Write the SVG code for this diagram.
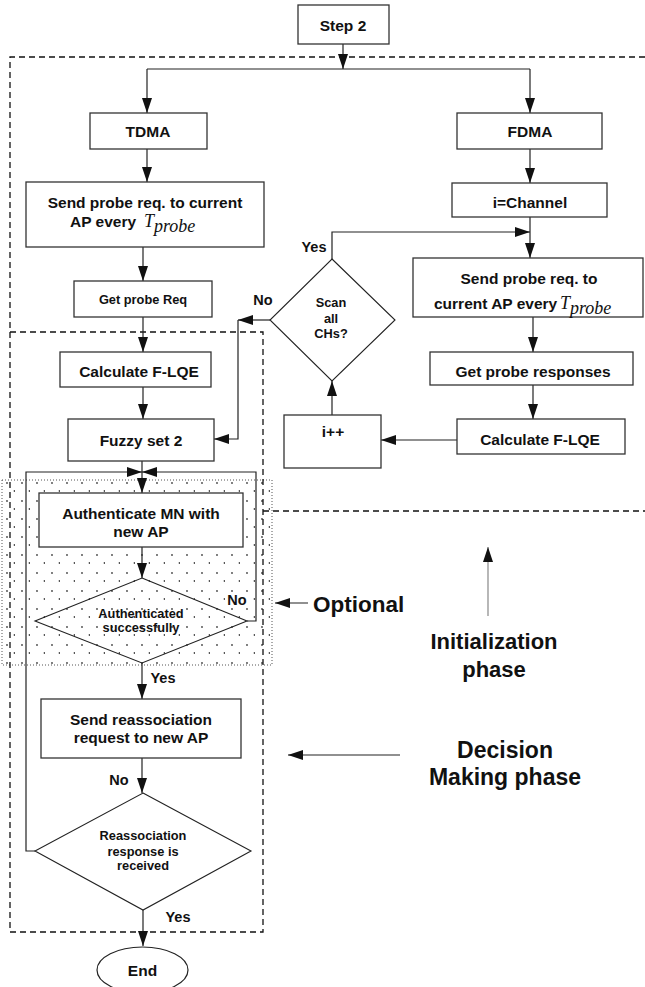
<svg xmlns="http://www.w3.org/2000/svg" width="645" height="987" viewBox="0 0 645 987">
<style>
.box{fill:#fff;stroke:#333;stroke-width:1.3}
.dia{fill:none;stroke:#222;stroke-width:1.1}
.t{font-family:"Liberation Sans",Arial,sans-serif;font-weight:bold;font-size:15.5px;fill:#111;text-anchor:middle}
.s{font-size:12.8px}
.l{font-size:14.5px}
.big{font-size:22.5px}
.ser{font-family:"Liberation Serif","Times New Roman",serif;font-style:italic;font-weight:normal;font-size:18px;text-anchor:start}
.c{fill:none;stroke:#222;stroke-width:1.2}
.dash{fill:none;stroke:#111;stroke-width:1.3;stroke-dasharray:6 4}
</style>
<defs>
<marker id="ah" markerUnits="userSpaceOnUse" markerWidth="15" markerHeight="10" refX="15" refY="5" orient="auto">
<path d="M0,0 L15,5 L0,10 z" fill="#111"/>
</marker>
<pattern id="dots" width="15" height="18" patternUnits="userSpaceOnUse" x="0" y="480">
<circle cx="7" cy="3" r="0.9" fill="#444"/>
<circle cx="14.5" cy="11" r="0.9" fill="#444"/>
</pattern>
</defs>

<g id="regions">
<rect x="2" y="480" width="270" height="185" fill="url(#dots)" stroke="#555" stroke-width="1" stroke-dasharray="1 2"/>
<path class="dash" d="M645,57 H10 V932 H263 V332 H10"/>
<path class="dash" d="M263,511 H645"/>
</g>

<g id="connectors">
<path class="c" d="M343,44 V69" marker-end="url(#ah)"/>
<path class="c" d="M147,69 H530"/>
<path class="c" d="M147,69 V113" marker-end="url(#ah)"/>
<path class="c" d="M530,69 V113" marker-end="url(#ah)"/>
<path class="c" d="M147,149 V182" marker-end="url(#ah)"/>
<path class="c" d="M530,149 V183" marker-end="url(#ah)"/>
<path class="c" d="M143,247 V281" marker-end="url(#ah)"/>
<path class="c" d="M143,317 V352" marker-end="url(#ah)"/>
<path class="c" d="M143,387 V419" marker-end="url(#ah)"/>
<path class="c" d="M332,259 V232 H530" marker-end="url(#ah)"/>
<path class="c" d="M530,217 V258" marker-end="url(#ah)"/>
<path class="c" d="M533,317 V352" marker-end="url(#ah)"/>
<path class="c" d="M533,385 V419" marker-end="url(#ah)"/>
<path class="c" d="M457,440 H381" marker-end="url(#ah)"/>
<path class="c" d="M332,415 V381" marker-end="url(#ah)"/>
<path class="c" d="M270,320 H238" marker-end="url(#ah)"/>
<path class="c" d="M238,320 V439 H214" marker-end="url(#ah)"/>
<path class="c" d="M142,461 V493" marker-end="url(#ah)"/>
<path class="c" d="M35,851 H26 V472 H142" marker-end="url(#ah)"/>
<path class="c" d="M247,621 H256 V472 H142" marker-end="url(#ah)"/>
<path class="c" d="M142,547 V578" marker-end="url(#ah)"/>
<path class="c" d="M142,663 V699" marker-end="url(#ah)"/>
<path class="c" d="M142,758 V793" marker-end="url(#ah)"/>
<path class="c" d="M143,910 V946" marker-end="url(#ah)"/>
<path class="c" d="M308,603 H275" marker-end="url(#ah)"/>
<path d="M488,616 V547" fill="none" stroke="#888" stroke-width="1.2" marker-end="url(#ah)"/>
<path class="c" d="M400,755 H288" marker-end="url(#ah)"/>
</g>

<g id="step2"><rect class="box" x="298" y="5" width="91" height="39"/><text class="t" x="343" y="30.5">Step 2</text></g>
<g id="tdma"><rect class="box" x="90" y="113" width="117" height="36"/><text class="t" x="148" y="136.5">TDMA</text></g>
<g id="fdma"><rect class="box" x="457" y="113" width="145" height="36"/><text class="t" x="530" y="136.5">FDMA</text></g>
<g id="sendProbeL"><rect class="box" x="26" y="182" width="238" height="65"/>
<text class="t" x="145" y="207.5">Send probe req. to current</text>
<text class="t" x="70" y="227" style="text-anchor:start">AP every</text>
<text class="t ser" x="144" y="227">T<tspan dy="5">probe</tspan></text></g>
<g id="iChannel"><rect class="box" x="452" y="183" width="155" height="34"/><text class="t" x="530" y="208">i=Channel</text></g>
<g id="getProbeReq"><rect class="box" x="74" y="281" width="138" height="36"/><text class="t s" x="143" y="303.5">Get probe Req</text></g>
<g id="scan"><path class="dia" d="M332,259 L395,320 L332,381 L270,320 z"/>
<text class="t s" x="331" y="307">Scan</text><text class="t s" x="331" y="322.5">all</text><text class="t s" x="331" y="338">CHs?</text></g>
<g id="sendProbeR"><rect class="box" x="413" y="258" width="230" height="59"/>
<text class="t" x="529" y="283.5">Send probe req. to</text>
<text class="t" x="434" y="309" style="text-anchor:start">current AP every</text>
<text class="t ser" x="560" y="309">T<tspan dy="5">probe</tspan></text></g>
<g id="calcL"><rect class="box" x="60" y="352" width="151" height="35"/><text class="t" x="139" y="377">Calculate F-LQE</text></g>
<g id="getResp"><rect class="box" x="430" y="352" width="203" height="33"/><text class="t" x="533" y="377">Get probe responses</text></g>
<g id="fuzzy"><rect class="box" x="68" y="419" width="146" height="42"/><text class="t" x="141" y="445.5">Fuzzy set 2</text></g>
<g id="iinc"><rect class="box" x="284" y="415" width="97" height="53"/><text class="t" x="333" y="437">i++</text></g>
<g id="calcR"><rect class="box" x="457" y="419" width="168" height="35"/><text class="t" x="540" y="445">Calculate F-LQE</text></g>
<g id="auth"><rect class="box" x="39" y="493" width="204" height="54"/>
<text class="t" x="141" y="519">Authenticate MN with</text><text class="t" x="141" y="537">new AP</text></g>
<g id="authOk"><path class="dia" d="M142,578 L247,621 L142,663 L35,621 z"/>
<text class="t s" x="141" y="618">Authenticated</text><text class="t s" x="141" y="632">successfully</text></g>
<g id="reassocReq"><rect class="box" x="41" y="699" width="200" height="59"/>
<text class="t" x="141" y="724.5">Send reassociation</text><text class="t" x="141" y="743">request to new AP</text></g>
<g id="reassocResp"><path class="dia" d="M143,793 L251,851 L143,910 L35,851 z"/>
<text class="t s" x="143" y="840">Reassociation</text><text class="t s" x="143" y="856">response is</text><text class="t s" x="143" y="870">received</text></g>
<g id="end"><ellipse cx="142.5" cy="970" rx="45.5" ry="23" fill="#fff" stroke="#222" stroke-width="1.2"/><text class="t" x="142.5" y="976">End</text></g>

<g id="labels">
<text class="t l" x="314" y="251.5">Yes</text>
<text class="t l" x="263" y="305">No</text>
<text class="t l" x="237" y="605">No</text>
<text class="t l" x="163" y="683">Yes</text>
<text class="t l" x="119" y="785">No</text>
<text class="t l" x="178" y="922">Yes</text>
<text class="t big" x="313" y="612" style="text-anchor:start">Optional</text>
<text class="t big" x="494" y="649" style="font-size:22px">Initialization</text>
<text class="t big" x="494" y="677" style="font-size:22px">phase</text>
<text class="t big" x="505" y="758" style="font-size:23px">Decision</text>
<text class="t big" x="505" y="785" style="font-size:23px">Making phase</text>
</g>
</svg>
